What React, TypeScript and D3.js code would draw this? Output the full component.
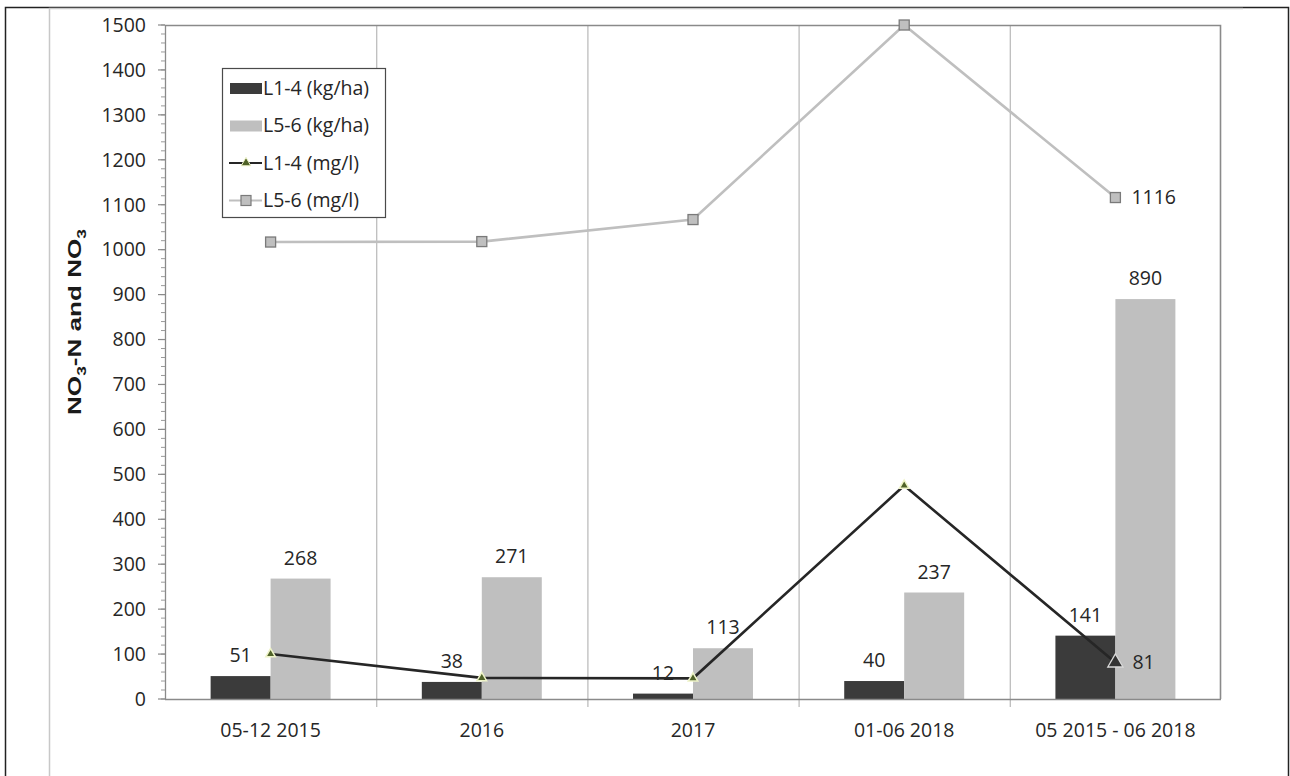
import React from 'react';
import * as d3 from 'd3';

const categories = ['05-12 2015', '2016', '2017', '01-06 2018', '05 2015 - 06 2018'];
const l14Kg = [51, 38, 12, 40, 141];
const l56Kg = [268, 271, 113, 237, 890];
const l14Mg = [100, 47, 46, 475, 81];
const l56Mg = [1017, 1018, 1067, 1500, 1116];
const yTicks = d3.range(0, 1501, 100);
const yMinor = d3.range(0, 1501, 20);
const legendLabels = ['L1-4 (kg/ha)', 'L5-6 (kg/ha)', 'L1-4 (mg/l)', 'L5-6 (mg/l)'];

const W = 1290;
const H = 776;
const M = { left: 165, right: 1221, top: 25, bottom: 699 };
const FONT = "'Open Sans', 'Noto Sans', sans-serif";
const FS = 19.5;
const TXT = '#262626';
const DARK = '#3b3b3b';
const LIGHT = '#bfbfbf';

export default function App() {
  const x = d3.scaleBand<string>().domain(categories).range([M.left, M.right]).padding(0);
  const y = d3.scaleLinear().domain([0, 1500]).range([M.bottom, M.top]);
  const bw = x.bandwidth() * 0.284;
  const cx = (c: string) => (x(c) as number) + x.bandwidth() / 2;
  const sub = (c: string) =>
    d3.scaleBand<string>().domain(['a', 'b']).range([cx(c) - bw, cx(c) + bw]).padding(0);

  const line = d3
    .line<number>()
    .x((_, i) => cx(categories[i]))
    .y((d) => y(d));

  const triSmall = d3.symbol(d3.symbolTriangle, 40)() as string;
  const triBig = d3.symbol(d3.symbolTriangle, 100)() as string;
  const last = categories.length - 1;

  return (
    <svg
      width={W}
      height={H}
      style={{ position: 'absolute', left: 0, top: 0, background: '#fff' }}
      fontFamily={FONT}
    >
      {/* outer frame */}
      <path d={`M5.5,${H} V7.5 H1288.5 V${H}`} fill="none" stroke="#222" strokeWidth={1.5} />
      <path d={`M49.5,${H} V8.5 H1243`} fill="none" stroke="#c8c8c8" strokeWidth={1.5} />

      {/* vertical category gridlines */}
      {categories.slice(1).map((c) => (
        <line
          key={c}
          x1={(x(c) as number) + 0.5}
          x2={(x(c) as number) + 0.5}
          y1={M.top}
          y2={M.bottom + 8}
          stroke="#bdbdbd"
          strokeWidth={1.3}
        />
      ))}

      {/* plot area border top/right */}
      <path
        d={`M${M.left},${M.top + 0.5} H${M.right - 0.5} V${M.bottom}`}
        fill="none"
        stroke="#8a8a8a"
        strokeWidth={1.6}
      />

      {/* bars */}
      {categories.map((c, i) => {
        const s = sub(c);
        return (
          <g key={c}>
            <rect x={s('a')} y={y(l14Kg[i])} width={s.bandwidth()} height={y(0) - y(l14Kg[i])} fill={DARK} />
            <rect x={s('b')} y={y(l56Kg[i])} width={s.bandwidth()} height={y(0) - y(l56Kg[i])} fill={LIGHT} />
          </g>
        );
      })}

      {/* y axis */}
      <line x1={M.left + 0.5} x2={M.left + 0.5} y1={M.top} y2={M.bottom} stroke="#8a8a8a" strokeWidth={1.3} />
      {yMinor.map((v) => (
        <line key={'m' + v} x1={M.left - 4} x2={M.left} y1={y(v)} y2={y(v)} stroke="#9a9a9a" strokeWidth={1} />
      ))}
      {yTicks.map((v) => (
        <g key={v}>
          <line x1={M.left - 7} x2={M.left} y1={y(v)} y2={y(v)} stroke="#8a8a8a" strokeWidth={1.2} />
          <text x={146} y={y(v)} dy="0.35em" textAnchor="end" fontSize={FS} fill={TXT}>
            {v}
          </text>
        </g>
      ))}
      {/* x axis */}
      <line x1={M.left} x2={M.right} y1={M.bottom + 0.5} y2={M.bottom + 0.5} stroke="#8a8a8a" strokeWidth={1.3} />
      {categories.map((c) => (
        <text key={c} x={cx(c)} y={737} textAnchor="middle" fontSize={FS} fill={TXT}>
          {c}
        </text>
      ))}

      {/* y axis title */}
      <text
        transform={`translate(81,322) rotate(-90)`}
        textAnchor="middle"
        fontSize={18}
        fontWeight="bold"
        fill="#1a1a1a"
        fontFamily="'Liberation Sans', Arial, sans-serif"
        textLength={186}
        lengthAdjust="spacingAndGlyphs"
      >
        NO<tspan fontSize={12} dy={5}>3</tspan>
        <tspan dy={-5}>-N and NO</tspan>
        <tspan fontSize={12} dy={5}>3</tspan>
      </text>

      {/* lines */}
      <path d={line(l56Mg) as string} fill="none" stroke={LIGHT} strokeWidth={2.6} />
      <path d={line(l14Mg) as string} fill="none" stroke="#262626" strokeWidth={2.6} />

      {/* markers */}
      {l56Mg.map((v, i) => (
        <rect
          key={'sq' + i}
          x={cx(categories[i]) - 5}
          y={y(v) - 5}
          width={10}
          height={10}
          fill={LIGHT}
          stroke="#7a7a7a"
          strokeWidth={1.3}
        />
      ))}
      {l14Mg.map((v, i) =>
        i === last ? (
          <path
            key={'tr' + i}
            d={triBig}
            transform={`translate(${cx(categories[i])},${y(v)})`}
            fill="#333"
            stroke="#d9d9d9"
            strokeWidth={1.3}
          />
        ) : (
          <path
            key={'tr' + i}
            d={triSmall}
            transform={`translate(${cx(categories[i])},${y(v)})`}
            fill="#4f6228"
            stroke="#eef3c8"
            strokeWidth={1.5}
          />
        )
      )}

      {/* data labels */}
      {categories.map((c, i) => {
        const s = sub(c);
        return (
          <g key={'lab' + c} fontSize={FS} fill={TXT} textAnchor="middle">
            <text x={(s('a') as number) + s.bandwidth() / 2} y={y(l14Kg[i]) - 14}>
              {l14Kg[i]}
            </text>
            <text x={(s('b') as number) + s.bandwidth() / 2} y={y(l56Kg[i]) - 14}>
              {l56Kg[i]}
            </text>
          </g>
        );
      })}
      <text x={cx(categories[last]) + 16} y={y(l56Mg[last])} dy="0.35em" fontSize={FS} fill={TXT}>
        {l56Mg[last]}
      </text>
      <text x={cx(categories[last]) + 17} y={y(l14Mg[last])} dy="0.35em" fontSize={FS} fill={TXT}>
        {l14Mg[last]}
      </text>

      {/* legend */}
      <g>
        <rect x={222.5} y={68.5} width={163} height={149} fill="#fff" stroke="#4a4a4a" strokeWidth={1.2} />
        {legendLabels.map((l, i) => {
          const ly = 88 + i * 37.5;
          return (
            <g key={l}>
              {i === 0 && <rect x={230} y={ly - 5} width={32} height={11} fill={DARK} />}
              {i === 1 && <rect x={230} y={ly - 5} width={32} height={11} fill={LIGHT} />}
              {i === 2 && (
                <g>
                  <line x1={229} x2={262} y1={ly} y2={ly} stroke="#262626" strokeWidth={2} />
                  <path d={triSmall} transform={`translate(246,${ly})`} fill="#4f6228" stroke="#eef3c8" strokeWidth={1} />
                </g>
              )}
              {i === 3 && (
                <g>
                  <line x1={229} x2={262} y1={ly} y2={ly} stroke={LIGHT} strokeWidth={2} />
                  <rect x={241} y={ly - 5} width={10} height={10} fill={LIGHT} stroke="#7a7a7a" strokeWidth={1.2} />
                </g>
              )}
              <text x={263} y={ly} dy="0.35em" fontSize={FS} fill={TXT}>
                {l}
              </text>
            </g>
          );
        })}
      </g>
    </svg>
  );
}
